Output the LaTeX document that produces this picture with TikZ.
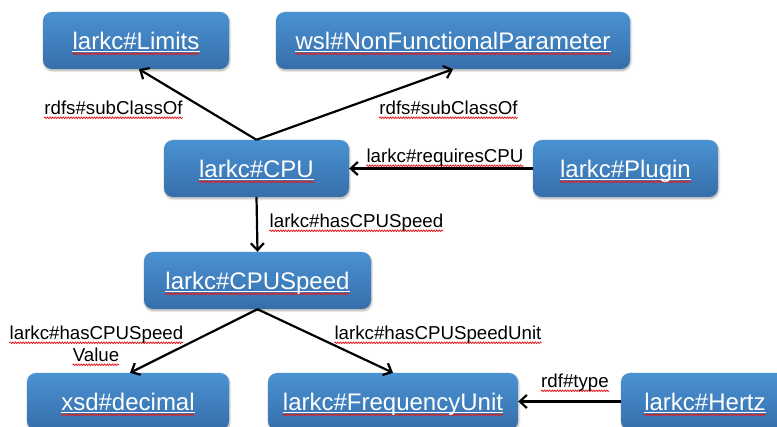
\documentclass[tikz,border=0pt]{standalone}
\usepackage{fontspec}
\setmainfont{Liberation Sans}
\usetikzlibrary{arrows.meta,decorations.pathmorphing,shadows.blur}

\definecolor{boxtop}{RGB}{74,146,210}
\definecolor{boxbot}{RGB}{54,110,170}
\definecolor{squigred}{RGB}{225,30,30}

\tikzset{
  cls/.style={rectangle, rounded corners=9pt, minimum height=57pt, inner sep=0pt,
    top color=boxtop, bottom color=boxbot,
    blur shadow={shadow xshift=0.6pt, shadow yshift=-1.6pt, shadow blur steps=5,
      shadow blur extra rounding=1pt, shadow opacity=35}},
  squig/.style={append after command={\pgfextra{\edef\sqn{\tikzlastnode}%
    \draw[squigred, line width=0.8pt, decorate,
      decoration={snake, amplitude=0.8pt, segment length=2.6pt}]
      ([yshift=-#1]\sqn.base west) -- ([yshift=-#1]\sqn.base east);}}},
  uline/.style={append after command={\pgfextra{\edef\uln{\tikzlastnode}%
    \draw[white, line width=1pt]
      ([yshift=-2pt]\uln.base west) -- ([yshift=-2pt]\uln.base east);}}},
  clstxt/.style={anchor=base, inner sep=0pt, text=white,
    font=\fontsize{24}{28}\selectfont, uline, squig=4.3pt},
  reltxt/.style={anchor=base, inner sep=0pt, text=black,
    font=\fontsize{18.7}{22}\selectfont, squig=2.8pt},
  rel/.style={line width=2.2pt,
    -{Straight Barb[length=7pt, width=13pt, line width=2.2pt]}},
}

\begin{document}
\begin{tikzpicture}[x=1pt, y=-1pt]
  \useasboundingbox (0,0) rectangle (777,427);
  \clip (0,0) rectangle (777,427);

  % class boxes
  \node[cls, minimum width=186pt] (lim)  at (136,40.5)   {};
  \node[cls, minimum width=354pt] (nfp)  at (453,40.5)   {};
  \node[cls, minimum width=185pt] (cpu)  at (256.5,168.5) {};
  \node[cls, minimum width=185pt] (plug) at (625.5,168.5) {};
  \node[cls, minimum width=227pt] (spd)  at (257.5,280.5) {};
  \node[cls, minimum width=202pt] (dec)  at (128,401.5)  {};
  \node[cls, minimum width=250pt] (freq) at (393,401.5)  {};
  \node[cls, minimum width=168pt] (hz)   at (705,401.5)  {};

  % class names
  \node[clstxt] (limT)  at ([yshift=-9pt]lim.center)  {larkc\#Limits};
  \node[clstxt] (nfpT)  at ([yshift=-9pt]nfp.center)  {wsl\#NonFunctionalParameter};
  \node[clstxt] (cpuT)  at ([yshift=-9pt]cpu.center)  {larkc\#CPU};
  \node[clstxt] (plugT) at ([yshift=-9pt]plug.center) {larkc\#Plugin};
  \node[clstxt] (spdT)  at ([yshift=-9pt]spd.center)  {larkc\#CPUSpeed};
  \node[clstxt] (decT)  at ([yshift=-9pt]dec.center)  {xsd\#decimal};
  \node[clstxt] (freqT) at ([yshift=-9pt]freq.center) {larkc\#FrequencyUnit};
  \node[clstxt] (hzT)   at ([yshift=-9pt]hz.center)   {larkc\#Hertz};

  % relations
  \draw[rel] (cpu.north) -- ([xshift=3pt]lim.south);
  \draw[rel] (cpu.north) -- (nfp.south);
  \draw[rel] (plug.west) -- (cpu.east);
  \draw[rel] (cpu.south) -- (spd.north);
  \draw[rel] (spd.south) -- ([xshift=2pt]dec.north);
  \draw[rel] (spd.south) -- (freq.north);
  \draw[rel] (hz.west) -- (freq.east);

  % relation names
  \node[reltxt] (l1)  at (113.5,115) {rdfs\#subClassOf};
  \node[reltxt] (l2)  at (448.5,115) {rdfs\#subClassOf};
  \node[reltxt] (l3)  at (445,163)   {larkc\#requiresCPU};
  \node[reltxt] (l4)  at (356.5,228) {larkc\#hasCPUSpeed};
  \node[reltxt] (l5a) at (96.5,340)  {larkc\#hasCPUSpeed};
  \node[reltxt] (l5b) at (96,362)    {Value};
  \node[reltxt] (l6)  at (438,340)   {larkc\#hasCPUSpeedUnit};
  \node[reltxt] (l7)  at (575,388)   {rdf\#type};
\end{tikzpicture}
\end{document}
